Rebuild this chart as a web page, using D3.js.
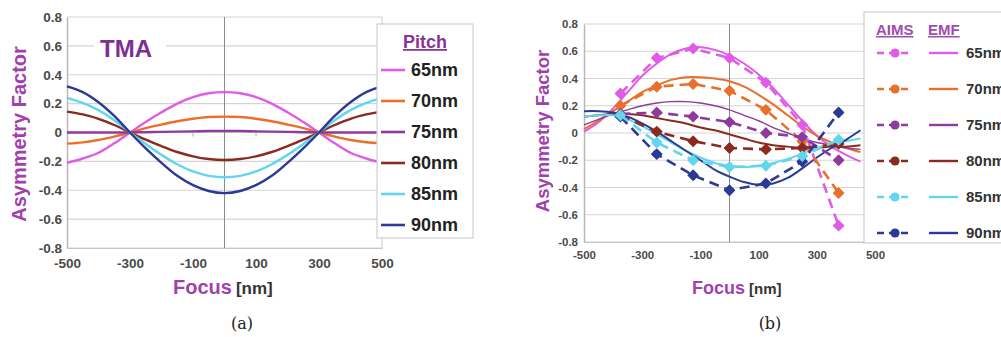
<!DOCTYPE html>
<html>
<head>
<meta charset="utf-8">
<script src="https://cdn.jsdelivr.net/npm/d3@7"></script>
<style>
  body { margin: 0; background: #fff; }
  svg { display: block; }
  text { font-family: "Liberation Sans", Arial, sans-serif; }
  .tick text { font-weight: bold; fill: #4a4a4a; }
</style>
</head>
<body>
<svg id="chart" width="1001" height="337"></svg>
<script>
// ---- data ----
const pitches = ["65nm", "70nm", "75nm", "80nm", "85nm", "90nm"];
const pitchColors = ["#e05ce6", "#e8702a", "#8e3a9e", "#8b2a1e", "#62d6ee", "#2b3a94"];

// (a) TMA simulation, focus every 50 nm
const focusTma = [-500, -450, -400, -350, -300, -250, -200, -150, -100, -50, 0,
  50, 100, 150, 200, 250, 300, 350, 400, 450, 500];
const tma65 = [-0.21, -0.18, -0.14, -0.075, 0, 0.073, 0.14, 0.2, 0.245, 0.272, 0.28,
  0.272, 0.245, 0.2, 0.14, 0.073, 0, -0.075, -0.14, -0.18, -0.21];
const tma70 = [-0.077, -0.068, -0.052, -0.028, 0, 0.03, 0.055, 0.078, 0.095, 0.107, 0.11,
  0.107, 0.095, 0.078, 0.055, 0.03, 0, -0.028, -0.052, -0.068, -0.075];
const tma75 = [0, 0, 0, 0, 0, 0.002, 0.004, 0.006, 0.008, 0.01, 0.01,
  0.01, 0.008, 0.006, 0.004, 0.002, 0, 0, 0, 0, 0];
const tma80 = [0.145, 0.125, 0.095, 0.052, 0, -0.05, -0.095, -0.135, -0.165, -0.184, -0.19,
  -0.184, -0.165, -0.135, -0.095, -0.05, 0, 0.052, 0.095, 0.125, 0.145];
const tma85 = [0.24, 0.205, 0.155, 0.085, 0, -0.08, -0.155, -0.22, -0.27, -0.3, -0.31,
  -0.3, -0.27, -0.22, -0.155, -0.08, 0, 0.085, 0.155, 0.205, 0.24];
const tma90 = [0.32, 0.28, 0.21, 0.115, 0, -0.11, -0.21, -0.3, -0.365, -0.405, -0.42,
  -0.405, -0.365, -0.3, -0.21, -0.11, 0, 0.115, 0.21, 0.28, 0.32];
const tmaSeries = [tma65, tma70, tma75, tma80, tma85, tma90];

// (b) EMF simulation (solid), focus every 50 nm
const focusEmf = [-500, -450, -400, -350, -300, -250, -200, -150, -100, -50, 0,
  50, 100, 150, 200, 250, 300, 350, 400, 450];
const emf65 = [0.01, 0.08, 0.18, 0.3, 0.42, 0.51, 0.58, 0.62, 0.63, 0.61, 0.57,
  0.51, 0.43, 0.33, 0.21, 0.09, -0.02, -0.1, -0.16, -0.21];
const emf70 = [0.03, 0.09, 0.16, 0.23, 0.3, 0.35, 0.39, 0.41, 0.41, 0.4, 0.38,
  0.34, 0.28, 0.21, 0.13, 0.05, -0.02, -0.07, -0.11, -0.14];
const emf75 = [0.06, 0.1, 0.14, 0.17, 0.2, 0.22, 0.23, 0.23, 0.22, 0.2, 0.17,
  0.13, 0.09, 0.04, 0, -0.04, -0.07, -0.09, -0.11, -0.12];
const emf80 = [0.12, 0.13, 0.14, 0.14, 0.13, 0.11, 0.09, 0.07, 0.04, 0.02, -0.01,
  -0.04, -0.07, -0.09, -0.1, -0.11, -0.11, -0.1, -0.1, -0.09];
const emf85 = [0.12, 0.13, 0.13, 0.1, 0.05, -0.01, -0.07, -0.13, -0.18, -0.22, -0.24,
  -0.25, -0.24, -0.22, -0.19, -0.15, -0.11, -0.08, -0.06, -0.04];
const emf90 = [0.16, 0.16, 0.15, 0.12, 0.07, 0.01, -0.06, -0.13, -0.2, -0.27, -0.32,
  -0.36, -0.38, -0.37, -0.33, -0.26, -0.18, -0.11, -0.05, 0.02];
const emfSeries = [emf65, emf70, emf75, emf80, emf85, emf90];

// (b) AIMS measurement (dashed + markers)
const focusAims = [-375, -250, -125, 0, 125, 250, 375];
const aims65 = [0.29, 0.55, 0.62, 0.55, 0.37, 0.06, -0.68];
const aims70 = [0.2, 0.34, 0.36, 0.31, 0.17, -0.06, -0.44];
const aims75 = [0.14, 0.15, 0.12, 0.08, 0.0, -0.03, -0.2];
const aims80 = [0.13, 0.01, -0.06, -0.11, -0.12, -0.11, -0.08];
const aims85 = [0.13, -0.07, -0.2, -0.25, -0.24, -0.17, -0.05];
const aims90 = [0.12, -0.155, -0.31, -0.42, -0.37, -0.21, 0.15];
const aimsSeries = [aims65, aims70, aims75, aims80, aims85, aims90];

const yTicks = [-0.8, -0.6, -0.4, -0.2, 0, 0.2, 0.4, 0.6, 0.8];
const xTicks = [-500, -300, -100, 100, 300, 500];

const titleColor = "#a23fae";
const gridColor = "#d4d4d4";

const svg = d3.select("#chart");

// plain hyphen for negatives, like the original
function yFmt(d) { return d === 0 ? "0" : d.toFixed(1); }
function xFmt(d) { return String(d); }

function drawFrame(g, x, y, opt) {
  // horizontal gridlines
  g.append("g").selectAll("line")
    .data(yTicks)
    .enter().append("line")
    .attr("x1", x.range()[0]).attr("x2", x.range()[1])
    .attr("y1", d => y(d)).attr("y2", d => y(d))
    .attr("stroke", gridColor).attr("stroke-width", 1.2);

  // right edge + vertical line at 0
  g.append("line")
    .attr("x1", x.range()[1]).attr("x2", x.range()[1])
    .attr("y1", y(0.8)).attr("y2", y(-0.8))
    .attr("stroke", gridColor).attr("stroke-width", 1.2);
  g.append("line")
    .attr("x1", x(0)).attr("x2", x(0))
    .attr("y1", y(0.8)).attr("y2", y(-0.8))
    .attr("stroke", "#8a8a8a").attr("stroke-width", 1);

  const yAxis = d3.axisLeft(y).tickValues(yTicks).tickFormat(yFmt).tickSize(0).tickPadding(opt.yPad);
  const ya = g.append("g")
    .attr("transform", "translate(" + x.range()[0] + ",0)")
    .call(yAxis);
  ya.select(".domain").attr("stroke", "#b8b8b8").attr("stroke-width", 1.5);
  ya.selectAll("text").style("font-size", opt.tickSize + "px");

  const xAxis = d3.axisBottom(x).tickValues(xTicks).tickFormat(xFmt).tickSize(0).tickPadding(opt.xPad);
  const xa = g.append("g")
    .attr("transform", "translate(0," + y(-0.8) + ")")
    .call(xAxis);
  xa.select(".domain").attr("stroke", "#c4c4c4").attr("stroke-width", 1.2);
  xa.selectAll("text").style("font-size", opt.tickSize + "px");
}

function axisTitles(g, tx, ty, ySize, fx, fy, fSize, nmSize) {
  g.append("text")
    .attr("transform", "translate(" + tx + "," + ty + ") rotate(-90)")
    .attr("text-anchor", "middle")
    .attr("dy", "0.35em")
    .style("font-size", ySize + "px").style("font-weight", "bold")
    .attr("fill", titleColor)
    .text("Asymmetry Factor");

  const t = g.append("text")
    .attr("x", fx).attr("y", fy)
    .style("font-weight", "bold");
  t.append("tspan").attr("fill", titleColor).style("font-size", fSize + "px").text("Focus");
  t.append("tspan").attr("fill", "#333").style("font-size", nmSize + "px").attr("dx", 4).text("[nm]");
}

// ================= (a) =================
const ga = svg.append("g");
const xa = d3.scaleLinear().domain([-500, 500]).range([67, 382]);
const ya = d3.scaleLinear().domain([-0.8, 0.8]).range([248, 17]);

drawFrame(ga, xa, ya, { tickSize: 13.5, yPad: 5, xPad: 10 });

// small ticks on the zero line
ga.selectAll("line.minor")
  .data([-100, 100])
  .enter().append("line")
  .attr("class", "minor")
  .attr("x1", d => xa(d)).attr("x2", d => xa(d))
  .attr("y1", ya(0) - 2).attr("y2", ya(0) + 4)
  .attr("stroke", "#aaa");

// TMA label
ga.append("rect").attr("x", 94).attr("y", 35).attr("width", 72).attr("height", 26).attr("fill", "#fff");
ga.append("text")
  .attr("x", 100).attr("y", 57)
  .style("font-size", "24px").style("font-weight", "bold")
  .attr("fill", "#7f2f92")
  .text("TMA");

const lineA = d3.line()
  .x((d, i) => xa(focusTma[i]))
  .y(d => ya(d))
  .curve(d3.curveCatmullRom);

ga.selectAll("path.tma")
  .data(tmaSeries)
  .enter().append("path")
  .attr("class", "tma")
  .attr("d", lineA)
  .attr("fill", "none")
  .attr("stroke", (d, i) => pitchColors[i])
  .attr("stroke-width", 2.4);

axisTitles(ga, 19, 134, 20, 173, 294, 20, 17);

// legend (a)
const lgA = ga.append("g");
lgA.append("rect")
  .attr("x", 377).attr("y", 24).attr("width", 96).attr("height", 214)
  .attr("fill", "#fff").attr("stroke", "#cfcfcf").attr("stroke-width", 1.2);
lgA.append("text")
  .attr("x", 425).attr("y", 48).attr("text-anchor", "middle")
  .style("font-size", "18px").style("font-weight", "bold")
  .style("text-decoration", "underline")
  .attr("fill", "#8a3596")
  .text("Pitch");
const lgAItem = lgA.selectAll("g.item")
  .data(pitches)
  .enter().append("g")
  .attr("class", "item")
  .attr("transform", (d, i) => "translate(0," + (70 + i * 31) + ")");
lgAItem.append("line")
  .attr("x1", 381).attr("x2", 405)
  .attr("stroke", (d, i) => pitchColors[i]).attr("stroke-width", 2.6);
lgAItem.append("text")
  .attr("x", 411).attr("dy", "0.36em")
  .style("font-size", "18px").style("font-weight", "bold")
  .attr("fill", "#222")
  .text(d => d);

svg.append("text")
  .attr("x", 242).attr("y", 329).attr("text-anchor", "middle")
  .style("font-family", "'DejaVu Serif', 'Liberation Serif', serif")
  .style("font-size", "16px").attr("fill", "#222")
  .text("(a)");

// ================= (b) =================
const gb = svg.append("g");
const xb = d3.scaleLinear().domain([-500, 500]).range([584, 875]);
const yb = d3.scaleLinear().domain([-0.8, 0.8]).range([242, 24]);

drawFrame(gb, xb, yb, { tickSize: 11.5, yPad: 6, xPad: 9 });

const lineEmf = d3.line()
  .x((d, i) => xb(focusEmf[i]))
  .y(d => yb(d))
  .curve(d3.curveCatmullRom);

gb.selectAll("path.emf")
  .data(emfSeries)
  .enter().append("path")
  .attr("class", "emf")
  .attr("d", lineEmf)
  .attr("fill", "none")
  .attr("stroke", (d, i) => pitchColors[i])
  .attr("stroke-width", (d, i) => i === 2 ? 1.4 : 2);

const lineAims = d3.line()
  .x((d, i) => xb(focusAims[i]))
  .y(d => yb(d));

const aimsOrder = [0, 1, 2, 3, 5, 4];
const marker = d3.symbol().type(d3.symbolDiamond2).size(62);

aimsOrder.forEach(k => {
  const col = pitchColors[k];
  gb.append("path")
    .attr("d", lineAims(aimsSeries[k]))
    .attr("fill", "none")
    .attr("stroke", col)
    .attr("stroke-width", 2.6)
    .attr("stroke-dasharray", "10,6");
  gb.selectAll(null)
    .data(aimsSeries[k])
    .enter().append("path")
    .attr("d", marker)
    .attr("transform", (d, i) => "translate(" + xb(focusAims[i]) + "," + yb(d) + ")")
    .attr("fill", col)
    .attr("stroke", col)
    .attr("stroke-width", 1.5)
    .attr("stroke-linejoin", "round");
});

axisTitles(gb, 543, 131, 18.5, 692, 294, 18, 15);

// legend (b)
const lgB = gb.append("g");
lgB.append("rect")
  .attr("x", 864).attr("y", 12).attr("width", 150).attr("height", 231)
  .attr("fill", "#fff").attr("stroke", "#cfcfcf").attr("stroke-width", 1.2);
lgB.append("text")
  .attr("x", 876).attr("y", 35)
  .style("font-size", "15px").style("font-weight", "bold")
  .style("text-decoration", "underline")
  .attr("fill", "#a04cb0")
  .text("AIMS");
lgB.append("text")
  .attr("x", 928).attr("y", 35)
  .style("font-size", "15px").style("font-weight", "bold")
  .style("text-decoration", "underline")
  .attr("fill", "#a04cb0")
  .text("EMF");
const lgBItem = lgB.selectAll("g.item")
  .data(pitches)
  .enter().append("g")
  .attr("class", "item")
  .attr("transform", (d, i) => "translate(0," + (53 + i * 36) + ")");
lgBItem.append("line")
  .attr("x1", 877).attr("x2", 913)
  .attr("stroke", (d, i) => pitchColors[i]).attr("stroke-width", 2.6)
  .attr("stroke-dasharray", "7,5");
lgBItem.append("circle")
  .attr("cx", 895).attr("r", 4.6)
  .attr("fill", (d, i) => pitchColors[i]);
lgBItem.append("line")
  .attr("x1", 929).attr("x2", 958)
  .attr("stroke", (d, i) => pitchColors[i]).attr("stroke-width", 2.4);
lgBItem.append("text")
  .attr("x", 966).attr("dy", "0.36em")
  .style("font-size", "15px").style("font-weight", "bold")
  .attr("fill", "#333")
  .text(d => d);

svg.append("text")
  .attr("x", 770).attr("y", 329).attr("text-anchor", "middle")
  .style("font-family", "'DejaVu Serif', 'Liberation Serif', serif")
  .style("font-size", "16px").attr("fill", "#222")
  .text("(b)");
</script>
</body>
</html>
